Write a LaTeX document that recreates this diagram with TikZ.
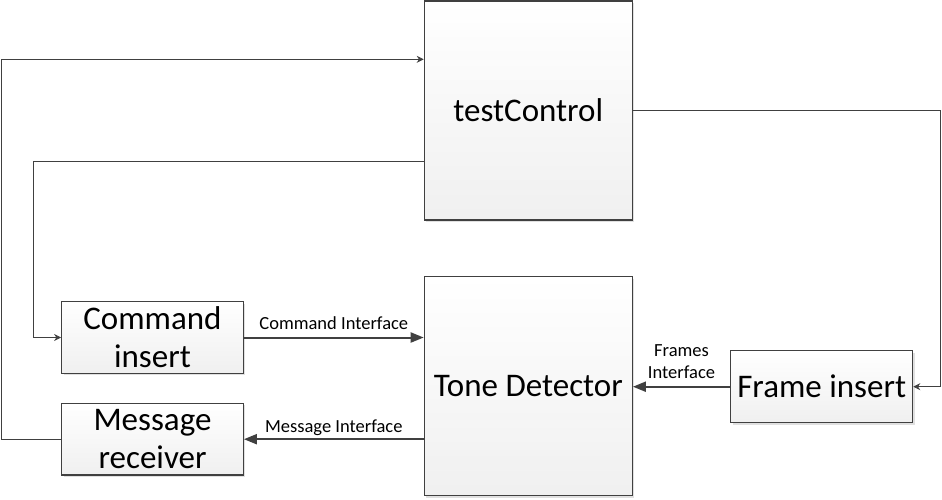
\documentclass[tikz,border=0pt]{standalone}
\usepackage{fontspec}
\setmainfont{Carlito}
\usepackage{tikz}
\usetikzlibrary{arrows.meta, shadows}
\tikzstyle{block} = [draw=black!75, line width=1.2pt, top color=white, bottom color=black!6,
  drop shadow={shadow xshift=2pt, shadow yshift=-2pt, fill=black!12, opacity=1},
  inner sep=2pt, align=center, font=\fontsize{33}{38}\selectfont]
\tikzstyle{link} = [draw=black!75, line width=0.8pt, -{Stealth[length=7pt,width=7pt]}]
\tikzstyle{bus} = [draw=black!75, line width=2pt, -{Triangle[length=13pt,width=10pt]}]
\tikzstyle{lbl} = [font=\fontsize{18.5}{22}\selectfont, align=center, inner sep=3pt]

\begin{document}
\begin{tikzpicture}[x=1pt, y=-1pt]
  \useasboundingbox (0,0) rectangle (942,499);

  \node[block, minimum width=208pt, minimum height=219pt] (ctrl) at (528.3,110.4) {testControl};
  \node[block, minimum width=208pt, minimum height=219pt] (tone) at (528.3,386.3) {Tone Detector};
  \node[block, minimum width=181.6pt, minimum height=71.6pt] (cmd) at (152.5,337.5) {Command\\insert};
  \node[block, minimum width=181.6pt, minimum height=71.6pt] (recv) at (152.5,439.2) {Message\\receiver};
  \node[block, minimum width=182pt, minimum height=72pt] (frame) at (821.7,386.7) {Frame insert};

  \draw[link] (recv.west) -| (1.7,59.3) -- (ctrl.west |- 0,59.3);
  \draw[link] (ctrl.west |- 0,161.7) -| (33.3,337.5) -- (cmd.west);
  \draw[link] (ctrl.east |- 0,110) -| (940.3,386.7) -- (frame.east);

  \draw[bus] (cmd.east) -- node[above=4pt, lbl] {Command Interface} (tone.west |- cmd.east);
  \draw[bus] (tone.west |- recv.east) -- node[above, lbl] {Message Interface} (recv.east);
  \draw[bus] (frame.west) -- node[above=4pt, lbl] {Frames\\Interface} (tone.east |- frame.west);
\end{tikzpicture}
\end{document}
